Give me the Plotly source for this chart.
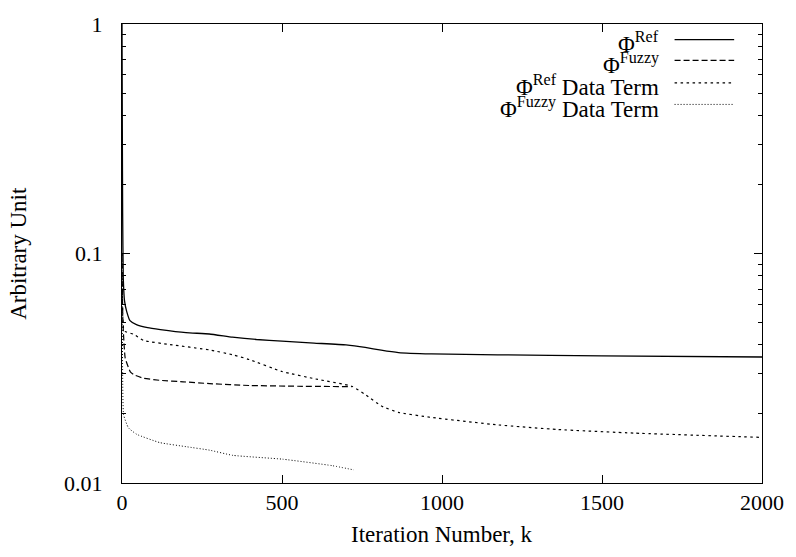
import plotly.graph_objects as go

# ---- data ----
k_ref = [0, 1, 2, 4, 8, 15, 25, 45, 80, 120, 200, 273, 345, 420, 500, 600, 700, 760, 810, 864, 967, 1174, 1500, 2000]
phi_ref = [1.0, 0.35, 0.15, 0.078, 0.062, 0.0557, 0.051, 0.049, 0.0475, 0.0466, 0.0452, 0.0446, 0.0432, 0.0422, 0.0415, 0.0407, 0.04, 0.039, 0.0379, 0.037, 0.0365, 0.0362, 0.0358, 0.0354]

k_fuzzy = [0, 1, 3, 10, 26, 36, 67, 120, 191, 274, 398, 550, 718]
phi_fuzzy = [0.1, 0.07, 0.05, 0.035, 0.0305, 0.0297, 0.0286, 0.028, 0.0276, 0.0271, 0.0266, 0.0264, 0.0263]

k_ref_dt = [0, 2, 5, 10, 36, 67, 150, 274, 346, 398, 500, 605, 718, 760, 812, 864, 968, 1176, 1362, 1600, 2000]
phi_ref_dt = [0.1, 0.055, 0.047, 0.0457, 0.0445, 0.0418, 0.0401, 0.038, 0.0362, 0.0345, 0.0306, 0.0284, 0.0264, 0.0243, 0.0216, 0.0203, 0.0193, 0.0179, 0.0171, 0.0165, 0.0158]

k_fuzzy_dt = [0, 1, 2, 5, 20, 46, 118, 200, 274, 346, 502, 657, 725]
phi_fuzzy_dt = [0.09, 0.05, 0.03, 0.0198, 0.0174, 0.0163, 0.015, 0.0144, 0.0139, 0.0132, 0.0127, 0.0119, 0.0114]

x_ticks = [0, 500, 1000, 1500, 2000]
y_ticks = [0.01, 0.1, 1]
y_ticktext = ["0.01", "0.1", "1"]

legend_labels = ["Φ<sup>Ref</sup>", "Φ<sup>Fuzzy</sup>", "Φ<sup>Ref</sup> Data Term", "Φ<sup>Fuzzy</sup> Data Term"]
styles = [("solid", 1.3), ("6px,3px", 1.2), ("2.5px,3.5px", 1.2), ("1px,2px", 1.0)]

FONT = "Liberation Serif"
FS_TICK = 22
FS = 23

fig = go.Figure()
series = [(k_ref, phi_ref), (k_fuzzy, phi_fuzzy), (k_ref_dt, phi_ref_dt), (k_fuzzy_dt, phi_fuzzy_dt)]
for (xs, ys), (dash, w), name in zip(series, styles, legend_labels):
    fig.add_trace(go.Scatter(x=xs, y=ys, mode="lines", name=name,
                             line=dict(color="black", width=w, dash=dash, shape="spline", smoothing=0.4),
                             showlegend=False))

# gnuplot-style key: right-aligned text with line sample to the right
row_y = [0.9658, 0.9209, 0.8718, 0.8248]
annotations = []
shapes = []
for lab, (dash, w), yy in zip(legend_labels, styles, row_y):
    annotations.append(dict(text=lab, x=0.8416, y=yy, xref="paper", yref="paper",
                            xanchor="right", yanchor="middle", showarrow=False, yshift=-3,
                            font=dict(family=FONT, size=FS, color="black")))
    shapes.append(dict(type="line", xref="paper", yref="paper", x0=0.8634, x1=0.9565, y0=yy, y1=yy,
                       line=dict(color="black", width=w, dash=dash)))

annotations.append(dict(text="Iteration Number, k", x=0.5, y=-0.112, xref="paper", yref="paper",
                        xanchor="center", yanchor="middle", showarrow=False,
                        font=dict(family=FONT, size=FS, color="black")))
annotations.append(dict(text="Arbitrary Unit", x=-0.162, y=0.5, xref="paper", yref="paper",
                        xanchor="center", yanchor="middle", showarrow=False, textangle=-90,
                        font=dict(family=FONT, size=FS, color="black")))

fig.update_layout(
    width=796, height=557,
    margin=dict(l=122, r=30, t=15, b=74),
    paper_bgcolor="white", plot_bgcolor="white",
    font=dict(family=FONT, size=FS_TICK, color="black"),
    annotations=annotations, shapes=shapes,
    showlegend=False,
)
fig.update_xaxes(range=[0, 2000], tickvals=x_ticks, ticks="inside", ticklen=8, tickcolor="black",
                 showline=True, linecolor="black", linewidth=1, mirror="allticks",
                 showgrid=False, zeroline=False, ticklabelstandoff=0,
                 tickfont=dict(family=FONT, size=FS_TICK, color="black"))
fig.update_yaxes(type="log", range=[-2, 0], tickvals=y_ticks, ticktext=y_ticktext,
                 ticks="inside", ticklen=8, tickcolor="black",
                 showline=True, linecolor="black", linewidth=1, mirror="allticks",
                 showgrid=False, zeroline=False, ticklabelstandoff=14,
                 tickfont=dict(family=FONT, size=FS_TICK, color="black"),
                 minor=dict(ticks="inside", ticklen=4, tickcolor="black", dtick="D1", showgrid=False))

fig.write_html("out.html")
